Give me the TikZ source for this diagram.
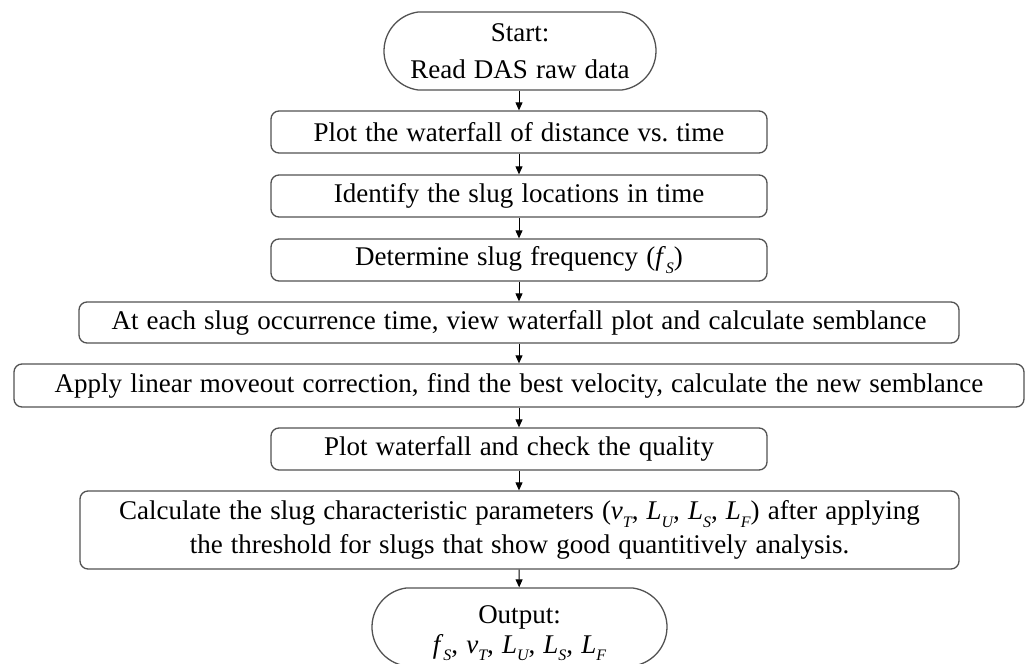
\documentclass[tikz,border=0pt]{standalone}
\usepackage{fontspec}
\setmainfont{Liberation Serif}
\usetikzlibrary{arrows.meta,shapes.misc}
\newcommand{\mysub}[1]{\raisebox{-0.28em}{\fontsize{16}{16}\selectfont\itshape #1}}
\newcommand{\vr}[2]{\textit{#1}\mysub{#2}}
\newcommand{\wsp}{\spaceskip=0.3em\relax}
\tikzset{
  x=1pt,y=-1pt,
  txt/.style={font=\fontsize{27}{36}\selectfont\wsp, align=center, inner sep=0pt, text=black},
  procbox/.style={txt, draw=black!68, line width=1.3pt, rounded corners=8pt, rectangle},
  termbox/.style={txt, draw=black!68, line width=1.3pt, rounded rectangle, rounded rectangle arc length=165},
  flow/.style={black, line width=1pt, -{Triangle[length=8pt,width=7pt]}}
}
\begin{document}
\begin{tikzpicture}
\useasboundingbox (0,0) rectangle (1029,664);
\node[termbox, minimum width=272pt, minimum height=78pt, font=\fontsize{27}{37}\selectfont\wsp] (start) at (520,51) {Start:\\Read DAS raw data};
\node[procbox, minimum width=496pt, minimum height=42pt] (b1) at (519,132) {Plot the waterfall of distance vs.\ time};
\node[procbox, minimum width=496pt, minimum height=42pt] (b2) at (519,196) {Identify the slug locations in time};
\node[procbox, minimum width=496pt, minimum height=42pt] (b3) at (519,260) {Determine slug frequency (\vr{f}{S})};
\node[procbox, minimum width=880pt, minimum height=41pt] (b4) at (519,322.5) {At each slug occurrence time, view waterfall plot and calculate semblance};
\node[procbox, minimum width=1010pt, minimum height=43pt] (b5) at (519,385.5) {Apply linear moveout correction, find the best velocity, calculate the new semblance};
\node[procbox, minimum width=496pt, minimum height=42pt] (b6) at (519,449) {Plot waterfall and check the quality};
\node[procbox, minimum width=879pt, minimum height=78pt, font=\fontsize{27}{34}\selectfont\wsp] (b7) at (519.5,530) {Calculate the slug characteristic parameters (\vr{v}{T}, \vr{L}{U}, \vr{L}{S}, \vr{L}{F}) after applying\\the threshold for slugs that show good quantitively analysis.};
\node[termbox, minimum width=295pt, minimum height=78pt, font=\fontsize{27}{30}\selectfont\wsp] (out) at (519.5,627) {\raisebox{-5pt}[\height][\depth]{\begin{tabular}{@{}c@{}}Output:\\\vr{f}{S}, \vr{v}{T}, \vr{L}{U}, \vr{L}{S}, \vr{L}{F}\end{tabular}}};
\draw[flow] (start.south -| b1.north) -- (b1.north);
\draw[flow] (b1) -- (b2);
\draw[flow] (b2) -- (b3);
\draw[flow] (b3) -- (b3.south |- b4.north);
\draw[flow] (b4.south -| b3.south) -- (b3.south |- b5.north);
\draw[flow] (b5.south -| b3.south) -- (b6.north);
\draw[flow] (b6) -- (b6.south |- b7.north);
\draw[flow] (b7.south -| b6.south) -- (out);
\end{tikzpicture}
\end{document}
